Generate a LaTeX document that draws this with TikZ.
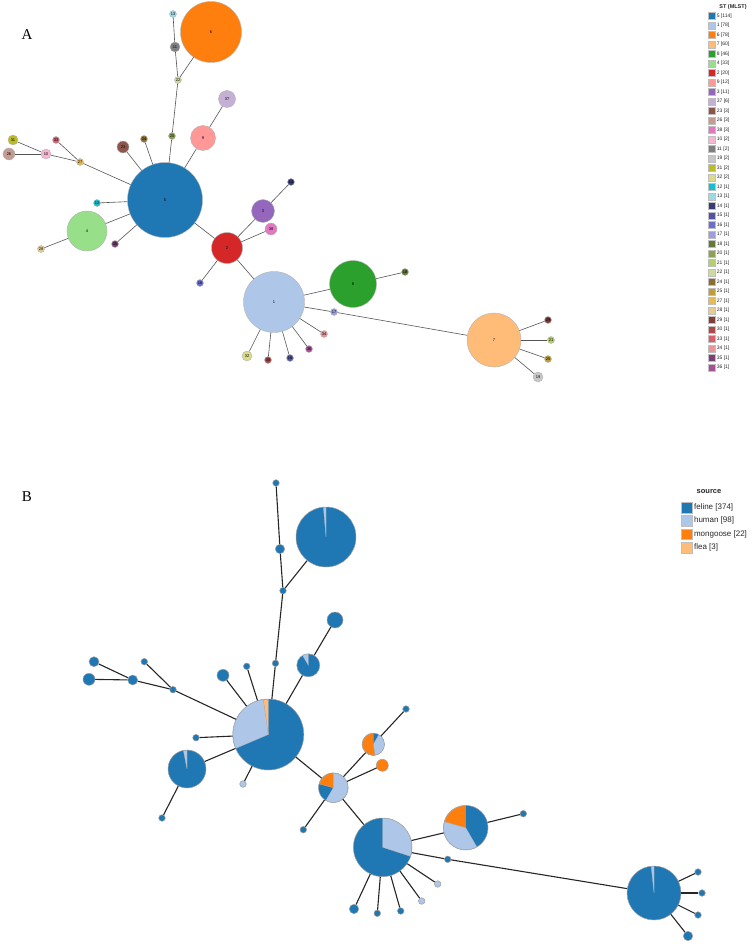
\documentclass[tikz,border=0pt]{standalone}
\usepackage{fontspec}
\setmainfont{Liberation Sans}
\newfontfamily\panelfont{Liberation Serif}
\usetikzlibrary{positioning}
% ST colours (panel A)
\definecolor{st5}{HTML}{1F77B4}
\definecolor{st1}{HTML}{AEC7E8}
\definecolor{st6}{HTML}{FF7F0E}
\definecolor{st7}{HTML}{FFBB78}
\definecolor{st8}{HTML}{2CA02C}
\definecolor{st4}{HTML}{98DF8A}
\definecolor{st2}{HTML}{D62728}
\definecolor{st9}{HTML}{FF9896}
\definecolor{st3}{HTML}{9467BD}
\definecolor{st37}{HTML}{C5B0D5}
\definecolor{st23}{HTML}{8C564B}
\definecolor{st26}{HTML}{C49C94}
\definecolor{st38}{HTML}{E377C2}
\definecolor{st10}{HTML}{F7B6D2}
\definecolor{st11}{HTML}{7F7F7F}
\definecolor{st19}{HTML}{C7C7C7}
\definecolor{st31}{HTML}{BCBD22}
\definecolor{st32}{HTML}{DBDB8D}
\definecolor{st12}{HTML}{17BECF}
\definecolor{st13}{HTML}{9EDAE5}
\definecolor{st14}{HTML}{393B79}
\definecolor{st15}{HTML}{5254A3}
\definecolor{st16}{HTML}{6B6ECF}
\definecolor{st17}{HTML}{9C9EDE}
\definecolor{st18}{HTML}{637939}
\definecolor{st20}{HTML}{8CA252}
\definecolor{st21}{HTML}{B5CF6B}
\definecolor{st22}{HTML}{CEDB9C}
\definecolor{st24}{HTML}{8C6D31}
\definecolor{st25}{HTML}{BD9E39}
\definecolor{st27}{HTML}{E7BA52}
\definecolor{st28}{HTML}{E7CB94}
\definecolor{st29}{HTML}{843C39}
\definecolor{st30}{HTML}{AD494A}
\definecolor{st33}{HTML}{D6616B}
\definecolor{st34}{HTML}{E7969C}
\definecolor{st35}{HTML}{7B4173}
\definecolor{st36}{HTML}{A55194}
% source colours (panel B)
\definecolor{feline}{HTML}{1F77B4}
\definecolor{human}{HTML}{AEC7E8}
\definecolor{mongoose}{HTML}{FF7F0E}
\definecolor{flea}{HTML}{FFBB78}
\definecolor{edgegray}{HTML}{555555}

\tikzset{
  stnode/.style={circle, draw=gray!60, line width=0.4pt, inner sep=0pt, font=\fontsize{4}{4}\selectfont},
  srcnode/.style={circle, draw=gray!75, line width=0.5pt, inner sep=0pt},
  stedge/.style={draw=edgegray, line width=0.6pt},
  srcedge/.style={draw=black!85, line width=1.1pt},
  wedge/.style={draw=gray!60, line width=0.3pt},
  legsq/.style={rectangle, inner sep=0pt, draw=gray!50, line width=0.2pt},
  legtxt/.style={inner sep=0pt, text=black!85, anchor=west},
}

\begin{document}
\begin{tikzpicture}[x=1pt, y=1pt]
\useasboundingbox (0,0) rectangle (752,-944);

% Panel A: ST network
\node[font=\panelfont\fontsize{15}{15}\selectfont] (labA) at (27,-35) {A};
\foreach \n/\x/\y/\rad in {13/173/14/3.5, 6/211/32/30.5, 11/175/47/5, 22/178/80/3.5,
    37/227/99/8.5, 9/203/138/12.5, 20/172/136/3.5, 24/144/139/3.5, 23/123/147/6,
    31/13/140/5, 33/56/140/3.5, 26/9/154/6, 10/46/154/5, 27/80/162/3.5,
    5/165/200/37.5, 12/97/203/3.5, 4/87/231/20, 28/41/249/3.5, 35/115/244/3.5,
    2/227/248/15.5, 3/263/211/11.5, 14/291/182/3.5, 38/271/229/6, 16/200/283/3.5,
    1/274/302/30.5, 8/353/284/23.5, 18/405/272/3.5, 17/334/312/3.5, 34/324/334/3.5,
    36/309/349/3.5, 15/290/358/3.5, 30/268/360/3.5, 32/247/356/5,
    7/494/340/27, 29/548/320/3.5, 21/551/340/3.5, 25/548/359/3.5, 19/538/377/5}
  \node[stnode, fill=st\n, minimum size=2*\rad pt] (a\n) at (\x,-\y) {\n};

% Panel B: source pies
\node[font=\panelfont\fontsize{15}{15}\selectfont] (labB) at (27,-497) {B};
\foreach \n/\x/\y/\rad/\col in {13/276/483/3.3/feline, 11/280/549/4.7/feline,
    22/283/590.7/3.3/feline, 6/326/537/30/feline, 20/275.5/663.3/3.3/feline,
    9/308.3/665.3/11.5/feline, 37/335/620/8/feline, 24/246.7/666.3/3.3/feline,
    23/223/675.3/6/feline, 31/94/661.7/5/feline, 26/89/679.3/6/feline,
    10/132.7/680/5/feline, 33/144.3/661.7/3.3/feline, 27/173/689.7/3.3/feline,
    5/268.3/734.5/35.5/feline, 12/196/737.7/3.3/feline, 4/187/769/19/feline,
    28/162/818/3.3/feline, 35/243/784/3.3/human, 2/333.3/787.7/14.8/feline,
    3/373.3/744.3/11.2/feline, 14/406/709/3.3/feline, 38/382.3/765.3/6/mongoose,
    16/303.3/829.7/3.3/feline, 1/382.7/847.3/29.3/feline, 8/465.7/827.7/22.3/feline,
    18/523.3/813.7/3.3/feline, 17/447.7/859.3/3.3/feline, 7/654/893/27/feline,
    29/698/872/3.3/feline, 21/702/893/3.3/feline, 25/698/915/3.3/feline,
    19/688/936/4.7/feline, 34/437.7/884/3.3/human, 36/421.7/901/3.3/human,
    15/400.7/911/3.3/feline, 30/377.3/913.3/3.3/feline, 32/354/909/4.7/feline}
  \node[srcnode, fill=\col, minimum size=2*\rad pt] (b\n) at (\x,-\y) {};

% slices that are not feline
\foreach \pie/\rad/\s/\e/\col in {5/35.2/98/203/human, 5/35.2/90/98/flea,
    6/29.7/90/95/human, 9/11.2/90/120/human, 4/18.7/90/101/human,
    7/26.7/90/96/human, 1/29/-18/90/human, 8/22/164/300/human,
    8/22/90/164/mongoose, 2/14.5/90/165/mongoose, 2/14.5/240/450/human,
    3/10.9/-81/60/human, 3/10.9/90/279/mongoose}
  \filldraw[wedge, fill=\col] (b\pie.center) -- ++(\s:\rad pt)
    arc[start angle=\s, end angle=\e, radius=\rad pt] -- cycle;

% links (same tree in both panels)
\foreach \u/\v in {13/11, 11/22, 6/22, 22/20, 20/5, 37/9, 9/5, 24/5, 23/5,
    31/10, 26/10, 10/27, 33/27, 27/5, 12/5, 4/5, 28/4, 35/5, 5/2, 2/3, 3/14,
    2/38, 2/16, 2/1, 1/8, 8/18, 1/17, 17/7, 1/34, 1/36, 1/15, 1/30, 1/32,
    7/29, 7/21, 7/25, 7/19} {
  \draw[stedge] (a\u) -- (a\v);
  \draw[srcedge] (b\u) -- (b\v);
}

% Legend A
\node[font=\bfseries\fontsize{5.5}{6}\selectfont, text=black!85] (sttitle) at (733,-7) {ST (MLST)};
\foreach \n/\k [count=\i from 0] in {5/114, 1/78, 6/78, 7/60, 8/46, 4/33, 2/20,
    9/12, 3/11, 37/6, 23/3, 26/3, 38/3, 10/2, 11/2, 19/2, 31/2, 32/2, 12/1, 13/1,
    14/1, 15/1, 16/1, 17/1, 18/1, 20/1, 21/1, 22/1, 24/1, 25/1, 27/1, 28/1, 29/1,
    30/1, 33/1, 34/1, 35/1, 36/1} {
  \node[legsq, fill=st\n, minimum size=7pt] (lsq\n) at (711.5,{-16-9.5*\i}) {};
  \node[legtxt, font=\fontsize{5}{6}\selectfont, right=1.5pt of lsq\n] (ltx\n) {\n\ [\k]};
}

% Legend B
\node[font=\bfseries\fontsize{7.5}{8}\selectfont, text=black!85] (srctitle) at (709,-492) {source};
\foreach \s/\k [count=\i from 0] in {feline/374, human/98, mongoose/22, flea/3} {
  \node[legsq, fill=\s, minimum size=10.5pt] (lsrc\i) at (686.5,{-507.5-13.3*\i}) {};
  \node[legtxt, font=\fontsize{8}{9}\selectfont, right=2pt of lsrc\i] (ltsrc\i) {\s\ [\k]};
}
\end{tikzpicture}
\end{document}
